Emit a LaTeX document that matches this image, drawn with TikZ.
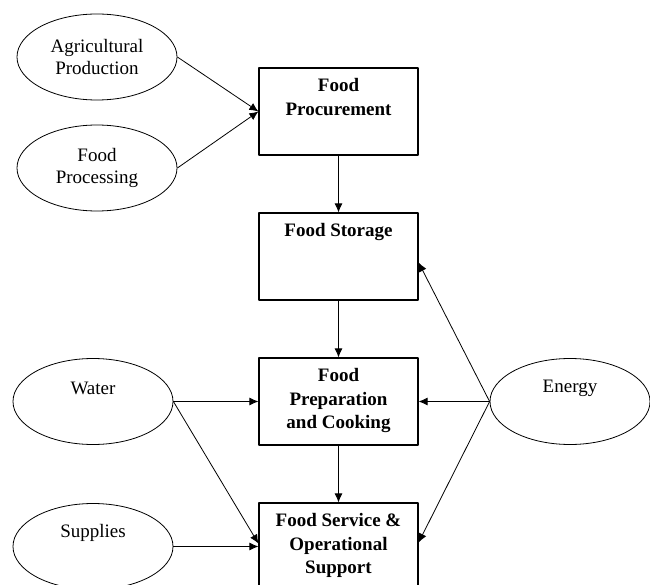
\documentclass[tikz,border=0pt]{standalone}
\usepackage{fontspec}
\setmainfont{Liberation Serif}
\usetikzlibrary{shapes.geometric,arrows.meta}

\begin{document}
\begin{tikzpicture}[x=1pt,y=-1pt,line join=round,
    blob/.style={draw,ellipse,line width=.8pt,minimum width=160pt,minimum height=86pt,inner sep=0pt,
        font=\fontsize{19}{22}\selectfont,align=center},
    box/.style={draw,line width=1.2pt,minimum width=159pt,minimum height=87pt,inner sep=0pt},
    boxtxt/.style={anchor=north,yshift=-11pt,align=center,inner sep=0pt,
        font=\fontsize{19}{23.5}\selectfont\bfseries},
    feed/.style={-{Latex[length=9pt,width=8pt]},line width=.8pt}]
    \useasboundingbox (0,0) rectangle (650,585);
    \clip (0,0) rectangle (650,585);
    % inputs
    \node[blob] (agri) at (97,57) {Agricultural\\Production};
    \node[blob] (proc) at (97,168) {Food\\Processing};
    \node[blob,label={[yshift=13pt,font=\fontsize{19}{22}\selectfont]center:Water}] (water) at (93,401.5) {};
    \node[blob,label={[yshift=14pt,font=\fontsize{19}{22}\selectfont]center:Supplies}] (supp) at (93,546.5) {};
    \node[blob,label={[yshift=13pt,font=\fontsize{19}{22}\selectfont]center:Energy}] (energy) at (570,401.5) {};
    % stages
    \node[box,label={[boxtxt]north:{Food\\Procurement}}] (procure) at (338.5,111.5) {};
    \node[box,label={[boxtxt]north:Food Storage}] (store) at (338.5,256.5) {};
    \node[box,label={[boxtxt]north:{Food\\Preparation\\and Cooking}}] (prep) at (338.5,401.5) {};
    \node[box,label={[boxtxt]north:{Food Service \&\\Operational\\Support}}] (serv) at (338.5,546.5) {};
    % flow down
    \draw[feed] (procure) -- (store);
    \draw[feed] (store) -- (prep);
    \draw[feed] (prep) -- (serv);
    % feeds
    \draw[feed] (agri.east) -- (procure.west);
    \draw[feed] (proc.east) -- (procure.west);
    \draw[feed] (water.east) -- (prep.west);
    \draw[feed] (water.east) -- ([yshift=3pt]serv.west);
    \draw[feed] (supp.east) -- (serv.west);
    \draw[feed] (energy.west) -- ([yshift=-6pt]store.east);
    \draw[feed] (energy.west) -- (prep.east);
    \draw[feed] (energy.west) -- ([yshift=4pt]serv.east);
\end{tikzpicture}
\end{document}
